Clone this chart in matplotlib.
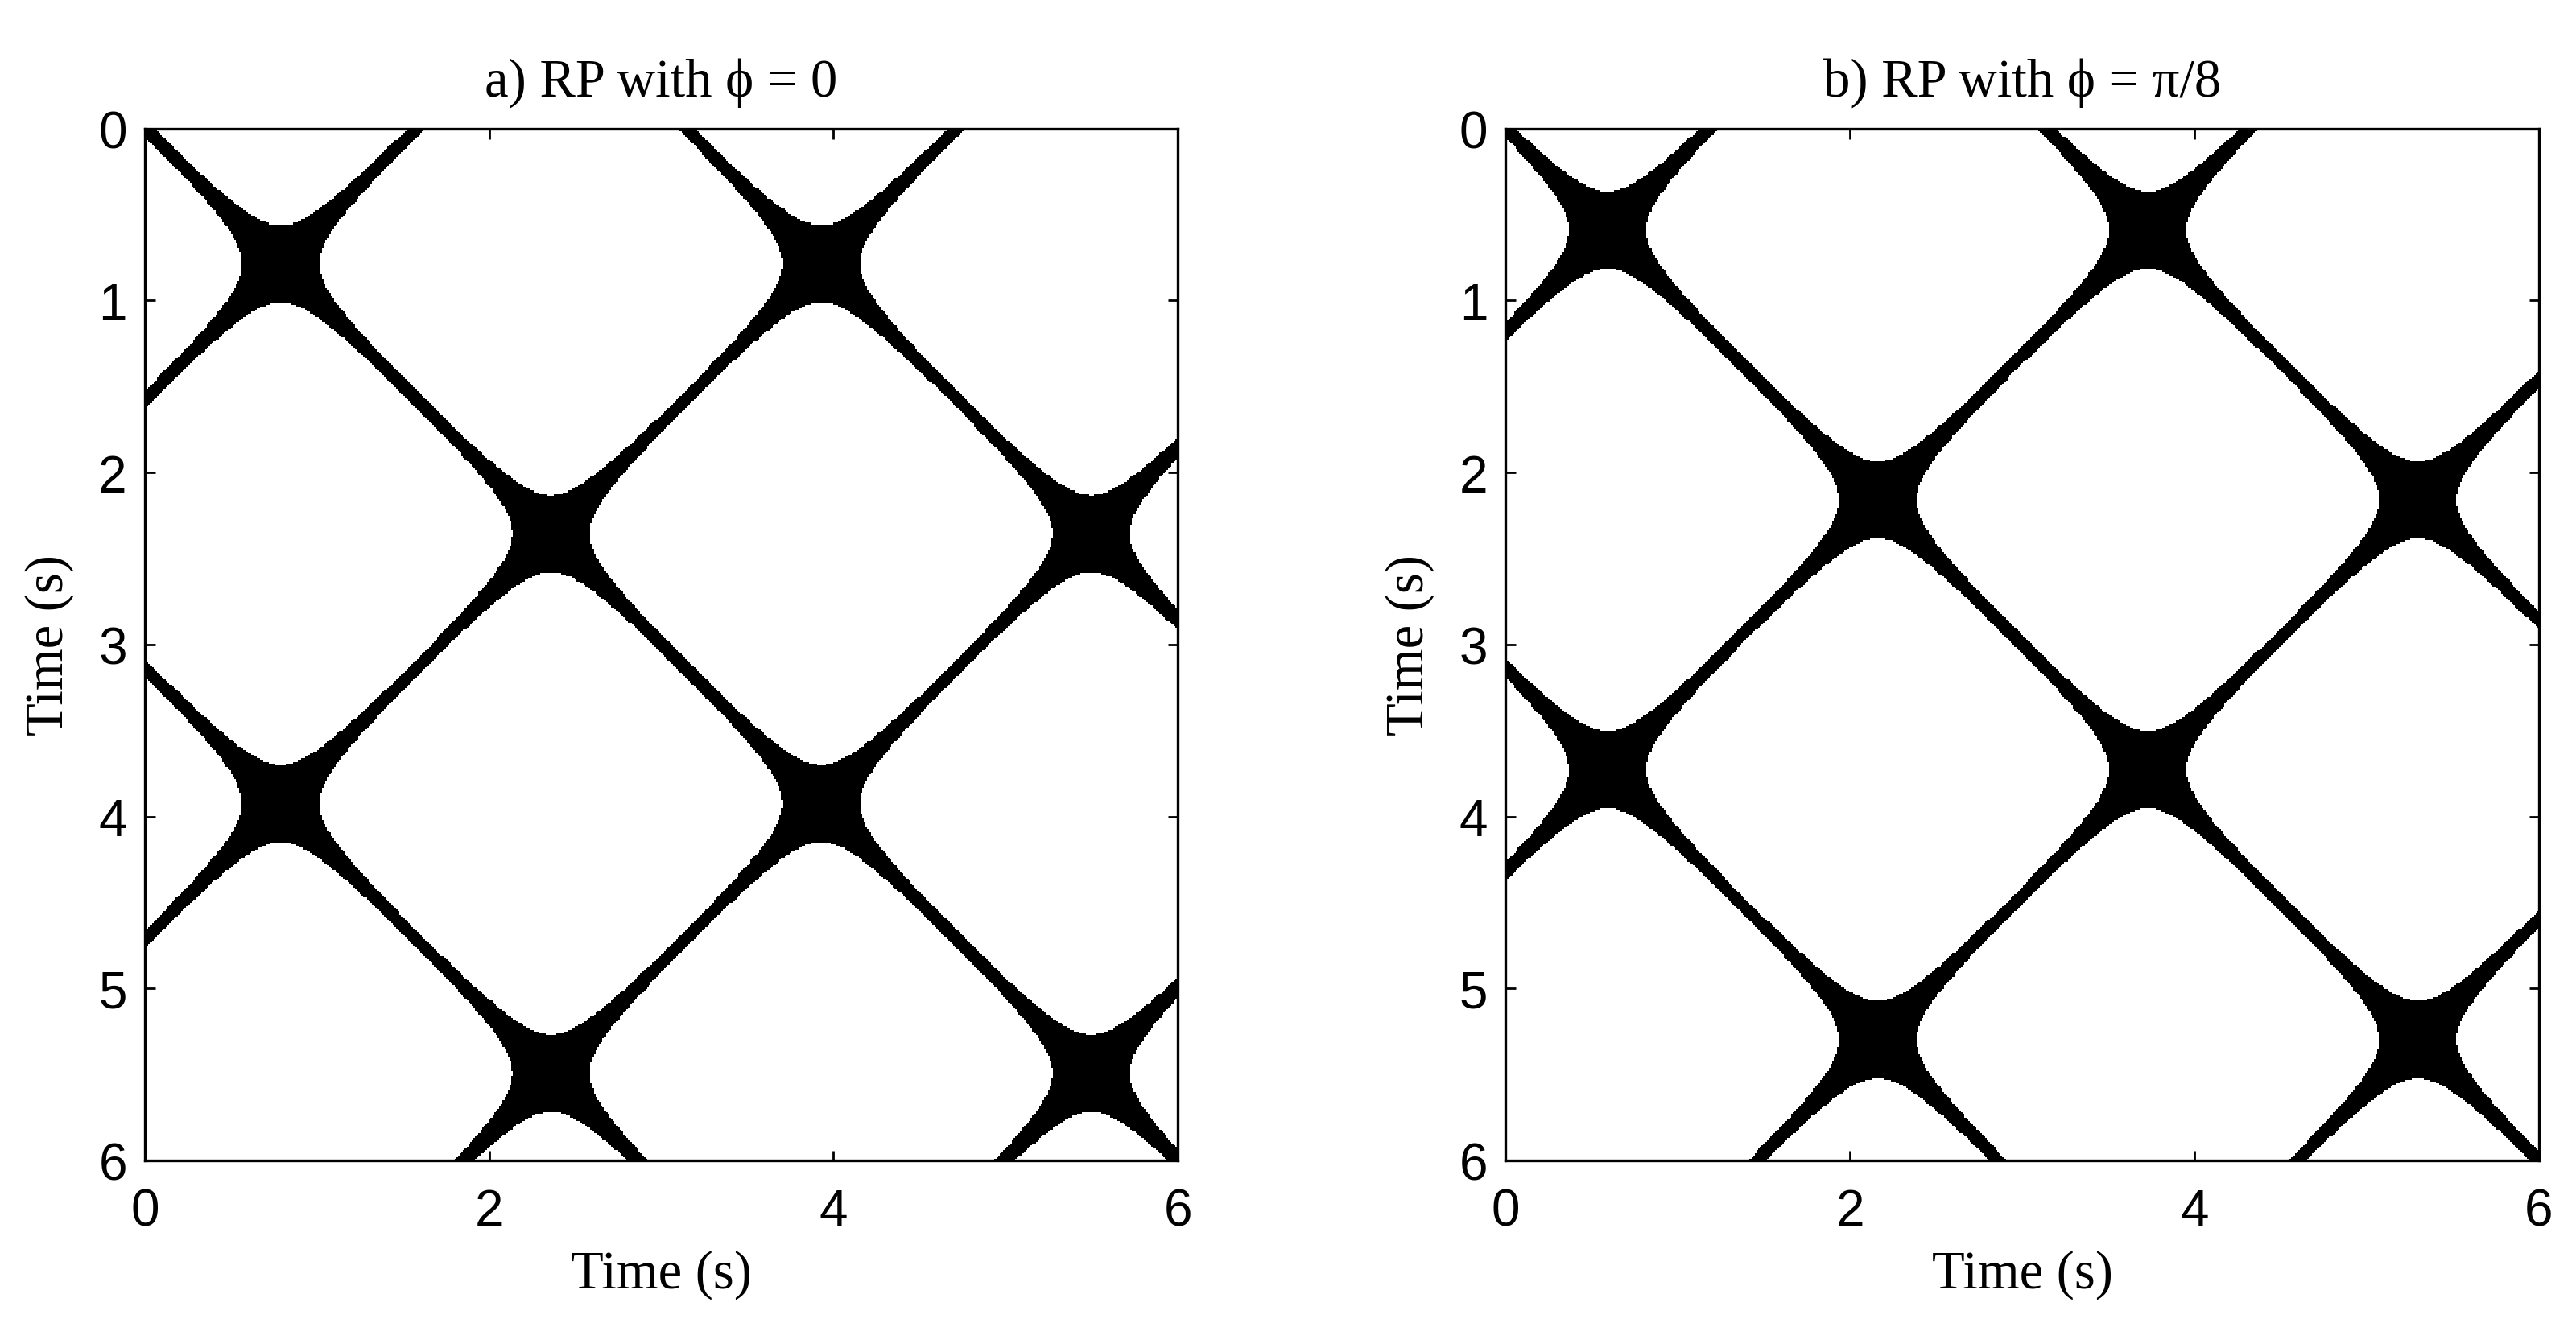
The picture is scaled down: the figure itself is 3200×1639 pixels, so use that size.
import numpy as np
import matplotlib
matplotlib.use('Agg')
import matplotlib.pyplot as plt
from matplotlib.colors import ListedColormap

# signal x(t) = sin(omega * t + phi), recurrence if |x_i - x_j| < eps
t_start, t_end, dt = 0.0, 6.0, 0.01
omega = 2.0
eps = 0.1
phases = [0.0, np.pi / 8]
titles = ['a) RP with ϕ = 0', 'b) RP with ϕ = π/8']
xticks = [0, 2, 4, 6]
yticks = [0, 1, 2, 3, 4, 5, 6]
xlabel = 'Time (s)'
ylabel = 'Time (s)'

serif = ['Liberation Serif', 'DejaVu Serif']
sans = ['Liberation Sans', 'DejaVu Sans']

t = np.arange(t_start, t_end + dt / 2, dt)
cmap = ListedColormap(['white', 'black'])

fig = plt.figure(figsize=(16, 8.2), dpi=200)
positions = [[0.05625, 0.120, 0.401, 0.782],
             [0.5845, 0.120, 0.401, 0.782]]

for pos, phi, title in zip(positions, phases, titles):
    ax = fig.add_axes(pos)
    x = np.sin(omega * t + phi)
    rp = (np.abs(x[:, None] - x[None, :]) < eps).astype(int)
    ax.imshow(rp, cmap=cmap, vmin=0, vmax=1, origin='upper',
              extent=[t_start, t_end, t_end, t_start],
              interpolation='nearest', aspect='auto')
    ax.set_xlim(t_start, t_end)
    ax.set_ylim(t_end, t_start)
    ax.set_xticks(xticks)
    ax.set_yticks(yticks)
    ax.tick_params(direction='in', length=4.5, width=1.0, top=True, right=True,
                   labelsize=23, pad=8)
    ax.tick_params(axis='x', pad=12)
    for lab in ax.get_xticklabels() + ax.get_yticklabels():
        lab.set_family(sans)
    for s in ax.spines.values():
        s.set_linewidth(1.2)
    ax.set_title(title, family=serif, fontsize=24, pad=15)
    ax.set_xlabel(xlabel, family=serif, fontsize=24, labelpad=6)
    ax.set_ylabel(ylabel, family=serif, fontsize=24, labelpad=11)

fig.savefig('out.png', dpi=200)
